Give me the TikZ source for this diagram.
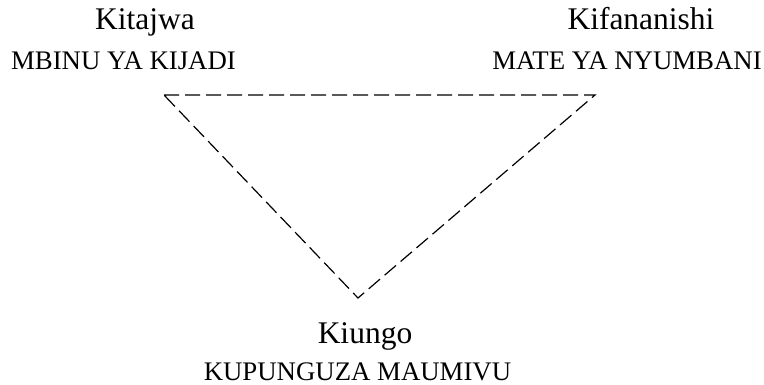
\documentclass[tikz,border=0pt]{standalone}
\usepackage{fontspec}
\setmainfont{Liberation Serif}
\begin{document}
\begin{tikzpicture}[x=1pt,y=-1pt,
  title/.style={anchor=base,inner sep=0pt,font=\fontsize{31.5}{36}\selectfont},
  caption/.style={anchor=base,inner sep=0pt,font=\fontsize{26.8}{30}\selectfont},
  edge/.style={line width=1.2pt,dash pattern=on 15pt off 6pt}]
  \path[use as bounding box] (0,0) rectangle (764,385);

  % corners of the triangle
  \coordinate (vl) at (164,95);
  \coordinate (vr) at (595,95);
  \coordinate (vb) at (358,298);

  % labels at each corner
  \node[title]   (tl) at (145,30)   {Kitajwa};
  \node[caption] (cl) at (123.5,70) {MBINU YA KIJADI};
  \node[title]   (tr) at (641,30)   {Kifananishi};
  \node[caption] (cr) at (627,70)   {MATE YA NYUMBANI};
  \node[title]   (tb) at (365,343)  {Kiungo};
  \node[caption] (cb) at (357.5,380) {KUPUNGUZA MAUMIVU};

  \draw[edge] (vl) -- (vr) -- (vb) -- cycle;
\end{tikzpicture}
\end{document}
